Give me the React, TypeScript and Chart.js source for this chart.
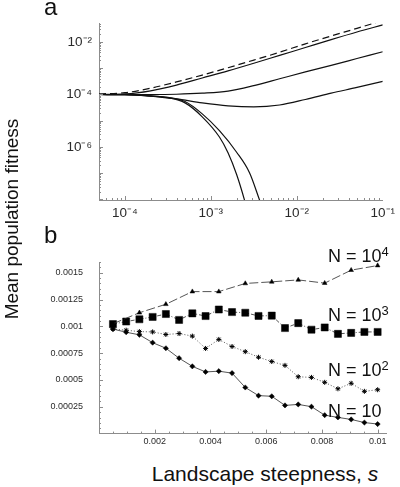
import React, { useEffect, useRef } from "react";
import { Chart, registerables } from "chart.js";
Chart.register(...registerables);

const FONT = "'Liberation Sans', Arial, Helvetica, sans-serif";
const AXIS_COLOR = "#8c8c8c";
const TICK_TEXT = "#2a2a2a";

// ---------- Panel a (log-log), values read as log10 exponents ----------
const A_S_EXP = [-4.301, -4.0, -3.7, -3.4, -3.1, -2.8, -2.5, -2.2, -1.9, -1.6, -1.3, -1.0];
const A_DASHED_EXP = [-3.98, -3.93, -3.76, -3.52, -3.26, -2.98, -2.69, -2.39, -2.07, -1.77, -1.48, -1.18];
const A_TOP_EXP = [-4.0, -3.98, -3.86, -3.64, -3.37, -3.1, -2.81, -2.51, -2.21, -1.91, -1.62, -1.35];
const A_MID_EXP = [-4.0, -4.0, -4.0, -3.99, -3.95, -3.87, -3.66, -3.4, -3.14, -2.89, -2.63, -2.37];
const A_LOW_EXP = [-4.0, -4.01, -4.06, -4.17, -4.32, -4.43, -4.47, -4.4, -4.19, -3.95, -3.73, -3.5];
const A_OUTER_S_EXP = [-4.301, -4.0, -3.7, -3.5, -3.3, -3.1, -2.9, -2.7, -2.55, -2.43, -2.38];
const A_OUTER_EXP = [-4.0, -4.01, -4.05, -4.11, -4.27, -4.74, -5.38, -6.2, -6.98, -8.05, -8.5];
const A_INNER_S_EXP = [-4.301, -4.0, -3.7, -3.5, -3.3, -3.1, -2.9, -2.8, -2.7, -2.6, -2.57];
const A_INNER_EXP = [-4.0, -4.01, -4.06, -4.12, -4.32, -4.85, -5.62, -6.22, -7.05, -8.12, -8.5];
const A_X_TICKS = [1e-4, 1e-3, 1e-2, 1e-1];
const A_Y_TICKS = [1e-6, 1e-4, 1e-2];

// ---------- Panel b (linear) ----------
const B_S = [0.0005, 0.000975, 0.00145, 0.001925, 0.0024, 0.002875, 0.00335, 0.003825, 0.0043, 0.004775, 0.00525,
  0.005725, 0.0062, 0.006675, 0.00715, 0.007625, 0.0081, 0.008575, 0.00905, 0.009525, 0.01];
const B_S_N4 = [0.0005, 0.00145, 0.0024, 0.00335, 0.0043, 0.00525, 0.0062, 0.00715, 0.0081, 0.00905, 0.01];
const B_N4 = [0.001024, 0.001127, 0.001206, 0.001324, 0.001324, 0.0014, 0.001415, 0.001433, 0.001403, 0.001524, 0.001567];
const B_N3 = [0.001021, 0.001045, 0.001066, 0.001088, 0.001115, 0.00106, 0.001121, 0.001096, 0.001157, 0.001133, 0.001127,
  0.001097, 0.0011, 0.000984, 0.00103, 0.000969, 0.00099, 0.00093, 0.000939, 0.000948, 0.000948];
const B_N2 = [0.000975, 0.000964, 0.000951, 0.000948, 0.000924, 0.000933, 0.000909, 0.000794, 0.000878, 0.000812, 0.000764,
  0.000712, 0.000672, 0.000636, 0.00053, 0.000524, 0.000478, 0.000418, 0.000469, 0.000394, 0.000409];
const B_N1 = [0.000975, 0.000945, 0.000921, 0.000848, 0.000796, 0.000703, 0.000627, 0.000575, 0.000582, 0.000564, 0.00043,
  0.000354, 0.000348, 0.000263, 0.000272, 0.000251, 0.000172, 0.000151, 0.000132, 0.000103, 0.000089];
const B_X_TICKS = [0.002, 0.004, 0.006, 0.008, 0.01];
const B_Y_TICKS = [0.00025, 0.0005, 0.00075, 0.001, 0.00125, 0.0015];

const SUP: Record<string, string> = { "-": "\u207B", "0": "\u2070", "1": "\u00B9", "2": "\u00B2", "3": "\u00B3",
  "4": "\u2074", "5": "\u2075", "6": "\u2076", "7": "\u2077", "8": "\u2078", "9": "\u2079" };
const pow10Label = (v: number) => {
  const e = String(Math.round(Math.log10(v)));
  return "10" + e.split("").map((c) => SUP[c] || c).join("");
};

function inwardTicks(spec: any) {
  return {
    id: "inwardTicks",
    afterDraw(chart: any) {
      const ctx = chart.ctx;
      const { left, right, top, bottom } = chart.chartArea;
      const xs = chart.scales.x;
      const ys = chart.scales.y;
      ctx.save();
      ctx.strokeStyle = AXIS_COLOR;
      ctx.lineWidth = 1;
      ctx.beginPath();
      const xTick = (v: number, len: number) => {
        const p = Math.round(xs.getPixelForValue(v)) + 0.5;
        if (p < left || p > right) return;
        ctx.moveTo(p, bottom);
        ctx.lineTo(p, bottom - len);
      };
      const yTick = (v: number, len: number) => {
        const p = Math.round(ys.getPixelForValue(v)) + 0.5;
        if (p < top || p > bottom) return;
        ctx.moveTo(left, p);
        ctx.lineTo(left + len, p);
      };
      spec.xMinor.forEach((v: number) => xTick(v, 2));
      spec.xMajor.forEach((v: number) => xTick(v, 4));
      spec.yMinor.forEach((v: number) => yTick(v, 2));
      spec.yMajor.forEach((v: number) => yTick(v, 4));
      ctx.stroke();
      ctx.restore();
    },
  };
}

function logMinor(lo: number, hi: number) {
  const out: number[] = [];
  for (let e = lo; e <= hi; e++) for (let m = 2; m <= 9; m++) out.push(m * Math.pow(10, e));
  return out;
}

const pts = (xe: number[], ye: number[]) => xe.map((e, i) => ({ x: Math.pow(10, e), y: Math.pow(10, ye[i]) }));

function PanelA() {
  const ref = useRef<HTMLCanvasElement>(null);
  useEffect(() => {
    const line = (data: any, dash: number[] = []) => ({
      data,
      borderColor: "#111",
      borderWidth: 1.2,
      borderDash: dash,
      pointRadius: 0,
      cubicInterpolationMode: "monotone",
      fill: false,
    });
    const chart = new Chart(ref.current as HTMLCanvasElement, {
      type: "line",
      data: {
        datasets: [
          line(pts(A_S_EXP, A_DASHED_EXP), [7, 4]),
          line(pts(A_S_EXP, A_TOP_EXP)),
          line(pts(A_S_EXP, A_MID_EXP)),
          line(pts(A_S_EXP, A_LOW_EXP)),
          line(pts(A_OUTER_S_EXP, A_OUTER_EXP)),
          line(pts(A_INNER_S_EXP, A_INNER_EXP)),
        ] as any,
      },
      options: {
        responsive: false,
        animation: false,
        events: [],
        layout: { padding: { top: 23, right: 15, left: 0, bottom: 0 } },
        plugins: { legend: { display: false }, tooltip: { enabled: false } },
        scales: {
          x: {
            type: "logarithmic",
            min: 5e-5,
            max: 0.1,
            afterBuildTicks: (s: any) => { s.ticks = A_X_TICKS.map((v) => ({ value: v })); },
            afterFit: (s: any) => { s.height = 30; },
            grid: { display: true, drawOnChartArea: false, drawTicks: false },
            border: { display: true, color: AXIS_COLOR, width: 1 },
            ticks: { callback: (v: any) => pow10Label(Number(v)), color: TICK_TEXT, font: { family: FONT, size: 13.5 }, padding: 5, maxRotation: 0, autoSkip: false },
          },
          y: {
            type: "logarithmic",
            min: Math.pow(10, -8.02),
            max: Math.pow(10, -1.276),
            afterBuildTicks: (s: any) => { s.ticks = A_Y_TICKS.map((v) => ({ value: v })); },
            afterFit: (s: any) => { s.width = 99; },
            grid: { display: true, drawOnChartArea: false, drawTicks: false },
            border: { display: true, color: AXIS_COLOR, width: 1 },
            ticks: { callback: (v: any) => pow10Label(Number(v)), color: TICK_TEXT, font: { family: FONT, size: 13.5 }, padding: 7, autoSkip: false },
          },
        } as any,
      },
      plugins: [inwardTicks({
        xMajor: [1e-4, 1e-3, 1e-2, 1e-1],
        xMinor: logMinor(-5, -2),
        yMajor: [1e-8, 1e-7, 1e-6, 1e-5, 1e-4, 1e-3, 1e-2],
        yMinor: logMinor(-9, -2),
      })],
    });
    return () => chart.destroy();
  }, []);
  return <canvas ref={ref} width={400} height={230} style={{ position: "absolute", left: 0, top: 0, width: 400, height: 230 }} />;
}

function PanelB() {
  const ref = useRef<HTMLCanvasElement>(null);
  useEffect(() => {
    const ds = (xs: number[], ys: number[], style: string, radius: number, dash: number[]) => ({
      data: xs.map((x, i) => ({ x, y: ys[i] })),
      borderColor: "#2a2a2a",
      borderWidth: 0.8,
      borderDash: dash,
      pointStyle: style,
      pointRadius: radius,
      pointBackgroundColor: "#000",
      pointBorderColor: "#000",
      pointBorderWidth: style === "star" ? 1 : 0.5,
      tension: 0,
      fill: false,
    });
    const xMinor: number[] = [];
    for (let i = 1; i <= 20; i++) xMinor.push(i * 0.0005);
    const yMinor: number[] = [];
    for (let i = 1; i <= 32; i++) yMinor.push(i * 0.00005);
    const chart = new Chart(ref.current as HTMLCanvasElement, {
      type: "line",
      data: {
        datasets: [
          ds(B_S_N4, B_N4, "triangle", 2.7, [9, 3]),
          ds(B_S, B_N3, "rect", 5, [4, 2, 1, 2]),
          ds(B_S, B_N2, "star", 2.5, [1, 2]),
          ds(B_S, B_N1, "rectRot", 2.6, []),
        ] as any,
      },
      options: {
        responsive: false,
        animation: false,
        events: [],
        layout: { padding: { top: 22, right: 14, left: 0, bottom: 0 } },
        plugins: { legend: { display: false }, tooltip: { enabled: false } },
        scales: {
          x: {
            type: "linear",
            min: 0,
            max: 0.0103,
            afterBuildTicks: (s: any) => { s.ticks = B_X_TICKS.map((v) => ({ value: v })); },
            afterFit: (s: any) => { s.height = 16; },
            grid: { display: true, drawOnChartArea: false, drawTicks: false },
            border: { display: true, color: AXIS_COLOR, width: 1 },
            ticks: { callback: (v: any) => String(v), color: TICK_TEXT, font: { family: FONT, size: 9 }, padding: 3, maxRotation: 0, autoSkip: false },
          },
          y: {
            type: "linear",
            min: 0,
            max: 0.0016,
            afterBuildTicks: (s: any) => { s.ticks = B_Y_TICKS.map((v) => ({ value: v })); },
            afterFit: (s: any) => { s.width = 99; },
            grid: { display: true, drawOnChartArea: false, drawTicks: false },
            border: { display: true, color: AXIS_COLOR, width: 1 },
            ticks: { callback: (v: any) => String(v), color: TICK_TEXT, font: { family: FONT, size: 9 }, padding: 16, autoSkip: false },
          },
        } as any,
      },
      plugins: [inwardTicks({
        xMajor: B_X_TICKS,
        xMinor,
        yMajor: B_Y_TICKS,
        yMinor,
      })],
    });
    return () => chart.destroy();
  }, []);
  return <canvas ref={ref} width={400} height={215} style={{ position: "absolute", left: 0, top: 240, width: 400, height: 215 }} />;
}

const abs = (o: any) => ({ position: "absolute" as const, whiteSpace: "nowrap" as const, color: "#111", ...o });

function NLabel({ top, exp }: { top: number; exp?: string }) {
  return (
    <div style={abs({ left: 328, top, fontSize: 18, lineHeight: "20px" })}>
      N = 10{exp ? <span style={{ fontSize: "0.72em", position: "relative", top: "-0.5em" }}>{exp}</span> : null}
    </div>
  );
}

export default function App() {
  return (
    <div style={{ position: "absolute", left: 0, top: 0, width: 400, height: 487, background: "#fff", fontFamily: FONT, overflow: "hidden" }}>
      <PanelA />
      <PanelB />
      <div style={abs({ left: 44, top: -7, fontSize: 24, lineHeight: "28px" })}>a</div>
      <div style={abs({ left: 44, top: 221, fontSize: 24, lineHeight: "28px" })}>b</div>
      <div style={abs({ left: 12 - 150, top: 219 - 11, width: 300, height: 22, lineHeight: "22px", fontSize: 19, textAlign: "center", transform: "rotate(-90deg)" })}>
        Mean population fitness
      </div>
      <div style={abs({ left: 115, top: 462, width: 300, fontSize: 21, lineHeight: "24px", textAlign: "center" })}>
        Landscape steepness, <i>s</i>
      </div>
      <NLabel top={246} exp="4" />
      <NLabel top={305} exp="3" />
      <NLabel top={360} exp="2" />
      <NLabel top={401} />
    </div>
  );
}
